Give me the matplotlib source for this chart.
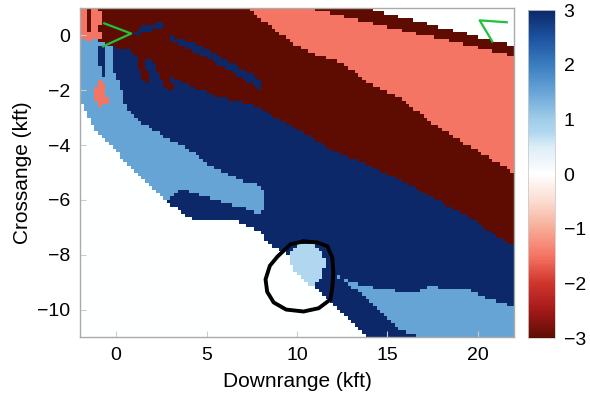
import numpy as np
import matplotlib
matplotlib.use("Agg")
import matplotlib.pyplot as plt
from matplotlib.colors import LinearSegmentedColormap
from matplotlib.path import Path

plt.rcParams['font.family'] = ['Liberation Sans', 'DejaVu Sans']

# ---- data: region values and their boundary polygons (kft), painted in order ----
val_dark_red = -3.0
val_salmon = -1.5
val_white = 0.0
val_pale_blue = 0.75
val_light_blue = 1.5
val_dark_blue = 3.0

background_value = val_dark_blue

white_lower_x = [-3, -1.93, -1.21, -0.11, 0.66, 1.76, 2.87, 4.13, 5.79, 6.89, 7.99, 8.54, 9.26, 9.64, 10.74, 12.01, 13.94, 14.2, -3]
white_lower_y = [-2.42, -2.42, -3.41, -4.14, -4.76, -5.35, -6.08, -6.70, -6.78, -6.81, -7.20, -7.69, -7.91, -8.10, -9.08, -9.82, -10.99, -12, -12]

light_blue_a_x = [-3, -1.4, -0.28, -0.3, 0.11, 0.66, 2.0, 3.97, 5.23, 6.72, 7.99, 8.3, 7.99, 7.27, 5.79, 4.85, 3.58, 3.42, 2.87, 1.76, 0.66, -0.11, -1.21, -1.93, -3]
light_blue_a_y = [-0.1, -0.1, -0.37, -1.2, -1.68, -2.78, -3.45, -4.14, -4.76, -5.24, -5.49, -5.9, -6.59, -6.34, -6.08, -5.86, -5.60, -5.71, -6.08, -5.35, -4.76, -4.14, -3.41, -2.42, -2.42]

light_blue_b_x = [12.23, 12.95, 14.77, 16.64, 17.36, 19.39, 20.28, 21.93, 23, 23, 17.2, 16.91, 15.70, 12.78]
light_blue_b_y = [-8.79, -9.01, -9.27, -9.38, -9.16, -9.27, -9.52, -9.89, -9.95, -12, -12, -10.99, -10.73, -9.0]

pale_blob_x = [9.64, 10.19, 10.63, 11.29, 11.57, 11.40, 11.13, 10.74, 9.81, 9.48]
pale_blob_y = [-7.91, -7.62, -7.55, -7.80, -8.28, -8.79, -9.01, -9.16, -8.53, -8.24]

dark_red_low_x = [-3, -3, -1.4, -0.28, 0.11, 0.7, 2.0, 3.0, 5.2, 7.44, 9.81, 11.85, 13.50, 16.64, 19.39, 21.93, 23, 23]
dark_red_low_y = [2, -0.05, -0.1, -0.37, -0.48, -0.55, -0.95, -1.5, -2.15, -2.5, -3.33, -4.14, -4.62, -5.60, -6.59, -7.69, -7.8, 2]

salmon_x = [7.0, 7.16, 7.44, 10.19, 12.56, 13.77, 15.70, 17.91, 21.93, 23, 23]
salmon_y = [2, 1.06, 0.88, -0.48, -1.03, -1.65, -2.31, -3.41, -4.98, -5.4, 2]

dark_red_up_x = [10.1, 10.30, 21.93, 23, 23]
dark_red_up_y = [2, 1.03, -0.73, -0.9, 2]

white_up_x = [13.0, 13.3, 21.93, 23, 23]
white_up_y = [2, 1.08, -0.37, -0.45, 2]

streak_long_x = [3.0, 4.5, 6.0, 7.3, 8.1, 7.9, 6.5, 5.0, 3.5, 2.9]
streak_long_y = [0.0, -0.35, -0.85, -1.35, -1.7, -1.95, -1.38, -0.8, -0.36, -0.2]

streak_short_x = [0.9, 1.6, 2.5, 2.6, 1.7, 1.0]
streak_short_y = [0.1, 0.35, 0.5, 0.32, 0.12, -0.08]

finger_a_x = [1.0, 1.5, 1.9, 1.6, 1.3]
finger_a_y = [-0.6, -0.8, -1.6, -1.75, -1.2]
finger_b_x = [2.1, 2.6, 3.2, 2.9, 2.4]
finger_b_y = [-0.95, -1.1, -1.9, -2.05, -1.5]

blue_stripe_x = [-1.0, -0.55, -0.55, -0.8, -1.0]
blue_stripe_y = [-0.4, -0.4, -1.5, -1.4, -0.9]

pale_stripe_x = [-0.45, -0.28, -0.28, -0.45]
pale_stripe_y = [-0.4, -0.4, -1.8, -1.8]

salmon_blob_x = [-0.85, -0.55, -0.45, -0.9, -1.2, -1.1]
salmon_blob_y = [-1.55, -1.9, -2.5, -2.6, -2.3, -1.9]

salmon_corner_x = [-2.5, -0.4, -0.6, -1.0, -0.7, -1.4, -2.5]
salmon_corner_y = [1.2, 1.2, 0.8, 0.3, -0.1, -0.2, -0.1]

red_corner_x = [-1.0, 0.3, 0.2, -0.4, -0.8]
red_corner_y = [1.2, 1.2, 0.0, -0.2, 0.5]

red_corner_streak_x = [-1.65, -1.35, -1.4, -1.6]
red_corner_streak_y = [1.1, 1.1, 0.1, 0.1]

layers = [
    (val_white, white_lower_x, white_lower_y),
    (val_light_blue, light_blue_a_x, light_blue_a_y),
    (val_light_blue, light_blue_b_x, light_blue_b_y),
    (val_pale_blue, pale_blob_x, pale_blob_y),
    (val_dark_red, dark_red_low_x, dark_red_low_y),
    (val_salmon, salmon_x, salmon_y),
    (val_dark_red, dark_red_up_x, dark_red_up_y),
    (val_white, white_up_x, white_up_y),
    (val_dark_blue, streak_long_x, streak_long_y),
    (val_dark_blue, streak_short_x, streak_short_y),
    (val_dark_red, finger_a_x, finger_a_y),
    (val_dark_red, finger_b_x, finger_b_y),
    (val_dark_blue, blue_stripe_x, blue_stripe_y),
    (val_light_blue, pale_stripe_x, pale_stripe_y),
    (val_salmon, salmon_blob_x, salmon_blob_y),
    (val_salmon, salmon_corner_x, salmon_corner_y),
    (val_dark_red, red_corner_x, red_corner_y),
    (val_dark_red, red_corner_streak_x, red_corner_streak_y),
]

# hand-drawn circle (kft)
circle_x = [10.36, 11.1, 11.68, 11.95, 12.01, 11.95, 11.85, 11.2, 10.36, 9.4, 8.71, 8.35, 8.26, 8.5, 8.93, 9.64, 10.36]
circle_y = [-7.51, -7.55, -7.69, -8.1, -8.64, -9.2, -9.63, -9.95, -10.07, -10.0, -9.74, -9.35, -8.90, -8.4, -8.06, -7.62, -7.51]

# green marks (kft)
green1_x = [-0.66, 0.83, -0.72]
green1_y = [0.44, 0.07, -0.40]
green2_x = [21.6, 20.1, 20.8]
green2_y = [0.48, 0.55, -0.22]

cbar_ticks = [-3, -2, -1, 0, 1, 2, 3]

# ---- grid ----
x_edges = np.arange(-2.0, 22.0001, 0.2)
y_edges = np.arange(-11.0, 1.0001, 0.125)
xc = 0.5 * (x_edges[:-1] + x_edges[1:])
yc = 0.5 * (y_edges[:-1] + y_edges[1:])
XX, YY = np.meshgrid(xc, yc)
pts = np.column_stack([XX.ravel(), YY.ravel()])
Z = np.full(XX.size, background_value)
for v, px, py in layers:
    inside = Path(np.column_stack([px, py])).contains_points(pts)
    Z[inside] = v
Z = Z.reshape(XX.shape)

cmap = LinearSegmentedColormap.from_list("rb", [
    (0.0, '#5e0c02'),
    (0.5 / 6, '#a3191a'),
    (1.0 / 6, '#d0352c'),
    (1.5 / 6, '#f57464'),
    (2.0 / 6, '#f7ab95'),
    (2.5 / 6, '#fbdcd0'),
    (3.0 / 6, '#ffffff'),
    (3.5 / 6, '#dcedf7'),
    (3.75 / 6, '#b2d8f0'),
    (4.0 / 6, '#a0cdea'),
    (4.5 / 6, '#69a5d7'),
    (5.0 / 6, '#3a7ec0'),
    (5.5 / 6, '#1d52a0'),
    (1.0, '#0c2869'),
])

fig = plt.figure(figsize=(5.9, 4.03), dpi=100)
ax = fig.add_axes([0.1356, 0.1638, 0.7356, 0.8163])
mesh = ax.pcolormesh(x_edges, y_edges, Z, cmap=cmap, vmin=-3, vmax=3, shading='flat')

ax.plot(circle_x, circle_y, color='black', lw=2.8, solid_joinstyle='round', solid_capstyle='round')
ax.plot(green1_x, green1_y, color='#1fc23a', lw=1.6)
ax.plot(green2_x, green2_y, color='#1fc23a', lw=1.6)

ax.set_xlim(-2, 22)
ax.set_ylim(-11, 1)
ax.set_xticks([0, 5, 10, 15, 20])
ax.set_yticks([0, -2, -4, -6, -8, -10])
ax.tick_params(direction='in', length=4, color='#cccccc', labelsize=14, pad=7)
for s in ax.spines.values():
    s.set_color('#aaaaaa')
    s.set_linewidth(1.0)
ax.set_xlabel('Downrange (kft)', fontsize=15, labelpad=6)
ax.set_ylabel('Crossange (kft)', fontsize=15, labelpad=4)

cax = fig.add_axes([0.895, 0.161, 0.046, 0.814])
cb = fig.colorbar(mesh, cax=cax, ticks=cbar_ticks)
cb.outline.set_edgecolor('#cccccc')
cb.outline.set_linewidth(0.6)
cax.tick_params(length=0, labelsize=14, pad=6)

fig.savefig('out.png', dpi=100)
